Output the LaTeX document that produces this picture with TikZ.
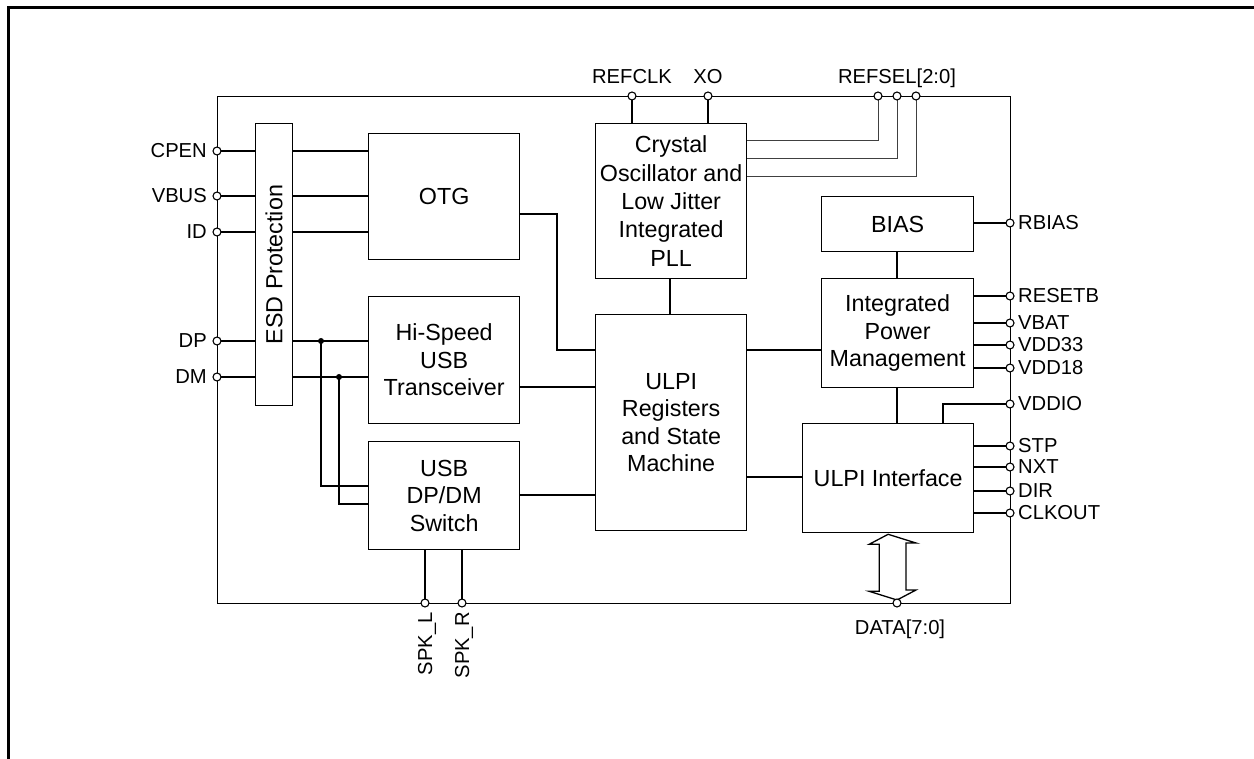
\documentclass[tikz,border=0pt]{standalone}
\usepackage{fontspec}
\setmainfont{Liberation Sans}
\usetikzlibrary{calc}
\newcommand\blkfont{\fontsize{23.3}{27.5}\selectfont}
\newcommand\pinfont{\fontsize{20.2}{23}\selectfont}
\tikzset{
  blk/.style={draw, line width=1.3pt, inner sep=0pt, anchor=north west, font=\blkfont, align=center},
  wire/.style={line width=1.3pt},
  selwire/.style={line width=1pt, draw=black!75},
  pinc/.style={circle, draw, fill=white, line width=1.1pt, minimum size=8pt, inner sep=0pt},
  lbl/.style={font=\pinfont, inner sep=0pt},
  jdot/.style={circle, fill=black, minimum size=6pt, inner sep=0pt}
}
\begin{document}
\begin{tikzpicture}[x=1pt,y=-1pt]
\useasboundingbox (0,0) rectangle (1254,759);
% outer frame
\draw[line width=2.4pt] (8.5,759) -- (8.5,7.5) -- (1254,7.5);
% chip
\node[blk, minimum width=793pt, minimum height=507pt] (chip) at (217,96) {};
% blocks
\node[blk, minimum width=37pt, minimum height=282pt] (esd) at (255,123) {};
\node[font=\blkfont, rotate=90, inner sep=0pt] (esdt) at (esd.center) {ESD Protection};
\node[blk, minimum width=151pt, minimum height=126pt] (otg) at (368,133) {OTG};
\node[blk, minimum width=151pt, minimum height=127pt] (hs) at (368,296) {Hi-Speed\\USB\\Transceiver};
\node[blk, minimum width=151pt, minimum height=108pt] (sw) at (368,441) {USB\\DP/DM\\Switch};
\node[blk, minimum width=151pt, minimum height=155pt, font=\fontsize{23.3}{28.3}\selectfont] (xtal) at (595,123) {Crystal\\Oscillator and\\Low Jitter\\Integrated\\PLL};
\node[blk, minimum width=151pt, minimum height=216pt] (ulpi) at (595,314) {ULPI\\Registers\\and State\\Machine};
\node[blk, minimum width=152pt, minimum height=55pt] (bias) at (821,196) {BIAS};
\node[blk, minimum width=152pt, minimum height=109pt] (pm) at (821,278) {Integrated\\Power\\Management};
\node[blk, minimum width=171pt, minimum height=109pt] (ui) at (802,423) {ULPI Interface};

% pins
\foreach \n/\y in {cpen/151, vbus/196, id/232, dp/341, dm/377}
  \coordinate (\n) at (217,\y);
\foreach \n/\y in {rbias/223, resetb/296, vbat/323, vdd33/345, vdd18/368, vddio/404, stp/446, nxt/467, dir/491, clkout/513}
  \coordinate (\n) at (1010,\y);
\coordinate (refclk) at (632,96);
\coordinate (xo) at (708,96);
\coordinate (rs2) at (878,96);
\coordinate (rs1) at (897,96);
\coordinate (rs0) at (916,96);
\coordinate (spkl) at (425,603);
\coordinate (spkr) at (462,603);
\coordinate (data) at (897,603);

% left wires
\foreach \n in {cpen, vbus, id}{
  \draw[wire] (\n) -- (\n -| esd.west);
  \draw[wire] (\n -| esd.east) -- (\n -| otg.west);
}
\foreach \n in {dp, dm}{
  \draw[wire] (\n) -- (\n -| esd.west);
  \draw[wire] (\n -| esd.east) -- (\n -| hs.west);
}
\coordinate (jdp) at (321,341);
\coordinate (jdm) at (339,377);
\coordinate (swa) at (368,486);
\coordinate (swb) at (368,504);
\draw[wire] (jdp) |- (swa);
\draw[wire] (jdm) |- (swb);
\node[jdot] (jdpd) at (jdp) {};
\node[jdot] (jdmd) at (jdm) {};

% internal wires
\coordinate (otgo) at (519,214);
\coordinate (ulpia) at (595,350);
\draw[wire] (otgo) -- (557,214) |- (ulpia);
\draw[wire] (hs.east |- 0,387) -- (ulpi.west |- 0,387);
\draw[wire] (sw.east |- 0,495) -- (ulpi.west |- 0,495);
\draw[wire] (xtal.south -| 670,0) -- (ulpi.north -| 670,0);
\draw[wire] (ulpi.east |- 0,350) -- (pm.west |- 0,350);
\draw[wire] (ulpi.east |- 0,477) -- (ui.west |- 0,477);
\draw[wire] (bias.south -| 897,0) -- (pm.north -| 897,0);
\draw[wire] (pm.south -| 897,0) -- (ui.north -| 897,0);

% top wires
\draw[wire] (refclk) -- (refclk |- xtal.north);
\draw[wire] (xo) -- (xo |- xtal.north);
\draw[selwire] (xtal.east |- 0,141) -| (rs2);
\draw[selwire] (xtal.east |- 0,159) -| (rs1);
\draw[selwire] (xtal.east |- 0,177) -| (rs0);

% right wires
\draw[wire] (bias.east |- rbias) -- (rbias);
\foreach \n in {resetb, vbat, vdd33, vdd18}
  \draw[wire] (pm.east |- \n) -- (\n);
\foreach \n in {stp, nxt, dir, clkout}
  \draw[wire] (ui.east |- \n) -- (\n);
\draw[wire] (vddio) -- (943,404) -- (943,423);

% bottom wires
\draw[wire] (spkl |- sw.south) -- (spkl);
\draw[wire] (spkr |- sw.south) -- (spkr);

% bus arrow
\draw[line width=1.3pt, line join=miter]
  ([shift={(0,1)}]ui.south) -- ++(-19,10) -- ++(10,0) -- ++(0,47) -- ++(-10,0)
  -- (897,600) -- ++(19,-10) -- ++(-10,0) -- ++(0,-47) -- ++(10,0) -- cycle;

% pin circles
\foreach \n in {cpen, vbus, id, dp, dm, rbias, resetb, vbat, vdd33, vdd18, vddio, stp, nxt, dir, clkout, refclk, xo, rs2, rs1, rs0, spkl, spkr, data}
  \node[pinc] (\n c) at (\n) {};

% labels
\node[lbl, anchor=east] (cpenL) at (207,151) {CPEN};
\node[lbl, anchor=east] (vbusL) at (207,196) {VBUS};
\node[lbl, anchor=east] (idL) at (207,232) {ID};
\node[lbl, anchor=east] (dpL) at (207,341) {DP};
\node[lbl, anchor=east] (dmL) at (207,377) {DM};
\node[lbl, anchor=west] (rbiasL) at (1018,223) {RBIAS};
\node[lbl, anchor=west] (resetbL) at (1018,296) {RESETB};
\node[lbl, anchor=west] (vbatL) at (1018,323) {VBAT};
\node[lbl, anchor=west] (vdd33L) at (1018,345) {VDD33};
\node[lbl, anchor=west] (vdd18L) at (1018,368) {VDD18};
\node[lbl, anchor=west] (vddioL) at (1018,404) {VDDIO};
\node[lbl, anchor=west] (stpL) at (1018,446) {STP};
\node[lbl, anchor=west] (nxtL) at (1018,467) {NXT};
\node[lbl, anchor=west] (dirL) at (1018,491) {DIR};
\node[lbl, anchor=west] (clkoutL) at (1018,513) {CLKOUT};
\node[lbl, anchor=base] (refclkL) at (632,84) {REFCLK};
\node[lbl, anchor=base] (xoL) at (708,84) {XO};
\node[lbl, anchor=base] (refselL) at (897,84) {REFSEL[2:0]};
\node[lbl, anchor=base] (dataL) at (900,634) {DATA[7:0]};
\node[lbl, anchor=base east, rotate=90] (spklL) at (432,612) {SPK\_L};
\node[lbl, anchor=base east, rotate=90] (spkrL) at (469,612) {SPK\_R};
\end{tikzpicture}
\end{document}
